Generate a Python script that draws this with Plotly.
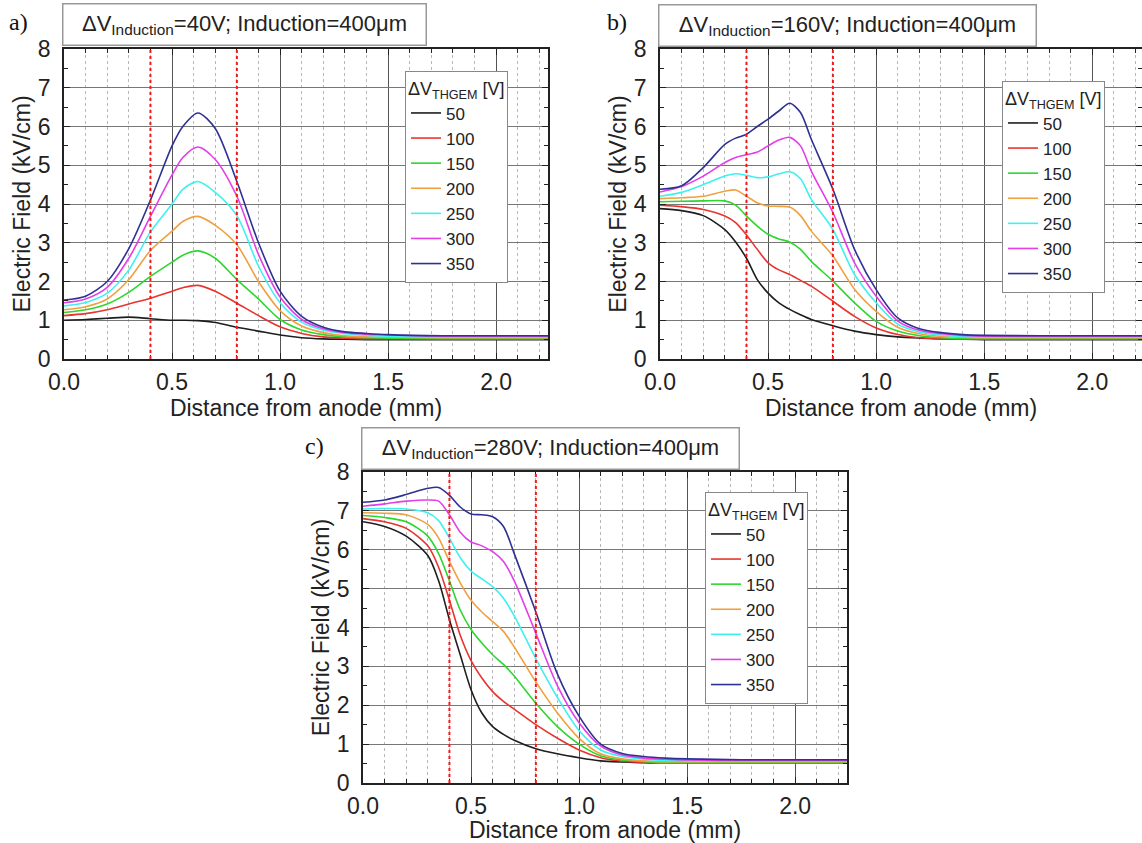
import plotly.graph_objects as go

W, H = 1142, 843
SANS = "Liberation Sans, Arial, sans-serif"
SERIF = "Liberation Serif, Times New Roman, serif"

# ---------------- data ----------------
series_names = ["50", "100", "150", "200", "250", "300", "350"]
series_colors = ["#1e1e1e", "#e8342f", "#2ed62e", "#f0a040", "#3ff0f0", "#e33ee8", "#2e3192"]

# panel a) dV_Induction = 40 V
x_a = [0, 0.1, 0.2, 0.3, 0.4, 0.5, 0.55, 0.62, 0.7, 0.8, 0.9, 1.0, 1.1, 1.2, 1.3, 1.4, 1.5, 1.75, 2.0, 2.25]
a_50 = [1.0, 1.02, 1.05, 1.08, 1.04, 1.0, 1.0, 0.99, 0.94, 0.82, 0.72, 0.62, 0.55, 0.52, 0.51, 0.5, 0.5, 0.5, 0.5, 0.5]
a_100 = [1.12, 1.17, 1.27, 1.42, 1.57, 1.75, 1.84, 1.9, 1.75, 1.44, 1.12, 0.83, 0.66, 0.57, 0.54, 0.52, 0.52, 0.51, 0.51, 0.51]
a_150 = [1.2, 1.27, 1.42, 1.72, 2.13, 2.5, 2.68, 2.79, 2.6, 2.05, 1.55, 1.02, 0.75, 0.63, 0.57, 0.55, 0.54, 0.53, 0.53, 0.53]
a_200 = [1.27, 1.35, 1.55, 2.05, 2.8, 3.3, 3.55, 3.68, 3.45, 2.95, 2.0, 1.25, 0.85, 0.68, 0.6, 0.57, 0.56, 0.55, 0.55, 0.55]
a_250 = [1.37, 1.46, 1.7, 2.3, 3.28, 4.0, 4.38, 4.58, 4.3, 3.7, 2.4, 1.45, 0.95, 0.74, 0.65, 0.61, 0.59, 0.57, 0.57, 0.57]
a_300 = [1.45, 1.55, 1.85, 2.6, 3.68, 4.75, 5.2, 5.47, 5.15, 4.2, 2.7, 1.6, 1.02, 0.78, 0.68, 0.64, 0.62, 0.59, 0.59, 0.59]
a_350 = [1.52, 1.62, 2.0, 2.85, 4.1, 5.5, 6.0, 6.35, 5.95, 4.58, 3.0, 1.75, 1.1, 0.82, 0.7, 0.66, 0.63, 0.6, 0.6, 0.6]

# panel b) dV_Induction = 160 V
x_b = [0, 0.1, 0.2, 0.3, 0.35, 0.4, 0.45, 0.5, 0.55, 0.6, 0.65, 0.7, 0.8, 0.9, 1.0, 1.1, 1.2, 1.3, 1.4, 1.5, 1.75, 2.0, 2.25]
b_50 = [3.88, 3.83, 3.7, 3.34, 3.02, 2.6, 2.05, 1.7, 1.45, 1.28, 1.14, 1.02, 0.86, 0.72, 0.63, 0.57, 0.54, 0.52, 0.51, 0.5, 0.5, 0.5, 0.5]
b_100 = [3.97, 3.93, 3.86, 3.69, 3.52, 3.2, 2.83, 2.48, 2.3, 2.18, 2.03, 1.88, 1.49, 1.1, 0.8, 0.63, 0.55, 0.52, 0.51, 0.51, 0.51, 0.51, 0.51]
b_150 = [4.06, 4.07, 4.08, 4.08, 3.97, 3.69, 3.43, 3.22, 3.1, 3.02, 2.83, 2.52, 2.01, 1.45, 0.97, 0.72, 0.6, 0.55, 0.53, 0.53, 0.53, 0.53, 0.53]
b_200 = [4.14, 4.16, 4.2, 4.33, 4.36, 4.2, 4.03, 3.95, 3.94, 3.92, 3.7, 3.3, 2.66, 1.8, 1.23, 0.82, 0.65, 0.58, 0.56, 0.55, 0.55, 0.55, 0.55]
b_250 = [4.2, 4.3, 4.5, 4.72, 4.78, 4.74, 4.68, 4.7, 4.78, 4.83, 4.65, 4.12, 3.34, 2.18, 1.45, 0.9, 0.7, 0.62, 0.58, 0.57, 0.57, 0.57, 0.57]
b_300 = [4.31, 4.45, 4.72, 5.07, 5.2, 5.27, 5.34, 5.5, 5.65, 5.72, 5.5, 4.85, 3.78, 2.48, 1.62, 0.98, 0.74, 0.65, 0.61, 0.59, 0.59, 0.59, 0.59]
b_350 = [4.38, 4.47, 4.94, 5.54, 5.7, 5.8, 6.0, 6.19, 6.4, 6.6, 6.36, 5.67, 4.38, 2.83, 1.79, 1.06, 0.78, 0.68, 0.63, 0.61, 0.6, 0.6, 0.6]

# panel c) dV_Induction = 280 V
x_c = [0, 0.1, 0.2, 0.3, 0.35, 0.4, 0.45, 0.5, 0.55, 0.6, 0.65, 0.7, 0.8, 0.9, 1.0, 1.1, 1.2, 1.3, 1.4, 1.5, 1.75, 2.0, 2.25]
c_50 = [6.72, 6.6, 6.35, 5.85, 5.2, 4.2, 3.3, 2.4, 1.8, 1.45, 1.25, 1.1, 0.88, 0.75, 0.65, 0.57, 0.54, 0.52, 0.52, 0.52, 0.52, 0.52, 0.52]
c_100 = [6.8, 6.72, 6.55, 6.1, 5.55, 4.7, 3.8, 3.15, 2.7, 2.35, 2.1, 1.9, 1.5, 1.15, 0.85, 0.65, 0.56, 0.53, 0.52, 0.52, 0.52, 0.52, 0.52]
c_150 = [6.88, 6.83, 6.72, 6.35, 5.9, 5.2, 4.45, 3.95, 3.6, 3.3, 3.05, 2.75, 2.05, 1.45, 1.0, 0.7, 0.59, 0.55, 0.53, 0.53, 0.53, 0.53, 0.53]
c_200 = [6.95, 6.94, 6.9, 6.65, 6.3, 5.7, 5.15, 4.7, 4.4, 4.15, 3.9, 3.5, 2.6, 1.8, 1.15, 0.75, 0.62, 0.57, 0.55, 0.55, 0.55, 0.55, 0.55]
c_250 = [7.05, 7.06, 7.05, 6.95, 6.75, 6.3, 5.8, 5.45, 5.25, 5.05, 4.75, 4.3, 3.2, 2.2, 1.35, 0.85, 0.68, 0.61, 0.58, 0.57, 0.56, 0.56, 0.56]
c_300 = [7.12, 7.18, 7.25, 7.28, 7.25, 6.9, 6.45, 6.2, 6.1, 5.95, 5.7, 5.2, 3.85, 2.5, 1.55, 0.95, 0.72, 0.64, 0.61, 0.59, 0.58, 0.58, 0.58]
c_350 = [7.22, 7.28, 7.42, 7.58, 7.6, 7.4, 7.1, 6.92, 6.9, 6.85, 6.6, 5.9, 4.4, 2.8, 1.72, 1.0, 0.76, 0.68, 0.64, 0.62, 0.6, 0.6, 0.6]

guide_x = [0.4, 0.8]  # red dashed markers (mm)
panel_labels = ["a)", "b)", "c)"]
panel_titles = [
    "ΔV<sub>Induction</sub>=40V; Induction=400μm",
    "ΔV<sub>Induction</sub>=160V; Induction=400μm",
    "ΔV<sub>Induction</sub>=280V; Induction=400μm",
]
x_title = "Distance from anode (mm)"
y_title = "Electric Field (kV/cm)"
legend_title = "ΔV<sub>THGEM</sub> [V]"

# ---------------- layout geometry (pixels) ----------------
panels = [
    dict(x=x_a, ys=[a_50, a_100, a_150, a_200, a_250, a_300, a_350],
         px=(64, 548), py=(49, 359), xmax=2.24, leg=(405, 71),
         box=(244, 24, 362), lab=(18, 22)),
    dict(x=x_b, ys=[b_50, b_100, b_150, b_200, b_250, b_300, b_350],
         px=(660, 1142), py=(49, 359), xmax=2.23, leg=(1002, 81),
         box=(847, 25, 376), lab=(617, 22)),
    dict(x=x_c, ys=[c_50, c_100, c_150, c_200, c_250, c_300, c_350],
         px=(363, 847), py=(472, 783), xmax=2.24, leg=(705, 492),
         box=(550, 449, 376), lab=(314, 446)),
]

fig = go.Figure()
layout = dict(
    width=W, height=H, margin=dict(l=0, r=0, t=0, b=0, autoexpand=False),
    paper_bgcolor="white", plot_bgcolor="white",
    font=dict(family=SANS, color="#222"),
    annotations=[], shapes=[],
)

for i, p in enumerate(panels):
    n = "" if i == 0 else str(i + 1)
    xa, ya = "x" + n, "y" + n
    leg = "legend" + n
    for name, color, yv in zip(series_names, series_colors, p["ys"]):
        fig.add_trace(go.Scatter(
            x=p["x"], y=yv, mode="lines", name=name, legend=leg,
            line=dict(color=color, width=1.6, shape="spline", smoothing=0.8),
            xaxis=xa, yaxis=ya,
        ))
    tickfont = dict(family=SANS, size=23, color="#222")
    layout["xaxis" + n] = dict(
        domain=[p["px"][0] / W, p["px"][1] / W], anchor=ya, automargin=False,
        range=[0, p["xmax"]], tick0=0, dtick=0.5, tickformat=".1f",
        ticks="inside", ticklen=6, tickcolor="#222", ticklabelstandoff=2,
        showline=True, linecolor="#222", linewidth=1.5, mirror="ticks",
        showgrid=True, gridcolor="#555", gridwidth=1, zeroline=False,
        minor=dict(dtick=0.1, ticks="inside", ticklen=4, tickcolor="#222",
                   showgrid=True, gridcolor="#b8b8b8", griddash="dot", gridwidth=1),
        tickfont=tickfont,
        title=dict(text=x_title, font=dict(family=SANS, size=23, color="#222"), standoff=0),
    )
    layout["yaxis" + n] = dict(
        domain=[1 - p["py"][1] / H, 1 - p["py"][0] / H], anchor=xa, automargin=False,
        range=[0, 8], tick0=0, dtick=1,
        ticks="inside", ticklen=6, tickcolor="#222", ticklabelstandoff=7,
        showline=True, linecolor="#222", linewidth=1.5, mirror="ticks",
        showgrid=True, gridcolor="#777", gridwidth=1, zeroline=False,
        minor=dict(dtick=0.5, ticks="inside", ticklen=4, tickcolor="#222", showgrid=False),
        tickfont=tickfont,
        title=dict(text=y_title, font=dict(family=SANS, size=23, color="#222"), standoff=1),
    )
    layout[leg] = dict(
        x=p["leg"][0] / W, y=1 - p["leg"][1] / H, xanchor="left", yanchor="top",
        bgcolor="white", bordercolor="#888", borderwidth=1,
        font=dict(family=SANS, size=17, color="#222"),
        title=dict(text=legend_title, font=dict(family=SANS, size=18, color="#222")),
        tracegroupgap=0,
    )
    for gx in guide_x:
        layout["shapes"].append(dict(
            type="line", xref=xa, yref=ya + " domain", x0=gx, x1=gx, y0=0, y1=1,
            line=dict(color="#ee1c1c", width=2, dash="dot"), layer="above",
        ))
    bx, by, bw = p["box"]
    layout["annotations"].append(dict(
        xref="paper", yref="paper", x=bx / W, y=1 - by / H,
        xanchor="center", yanchor="middle", text=panel_titles[i], showarrow=False,
        font=dict(family=SANS, size=22, color="#222"),
        bgcolor="white", bordercolor="#999", borderwidth=1.5, borderpad=0,
        width=bw, height=40,
    ))
    lx, ly = p["lab"]
    layout["annotations"].append(dict(
        xref="paper", yref="paper", x=lx / W, y=1 - ly / H,
        xanchor="center", yanchor="middle", text=panel_labels[i], showarrow=False,
        font=dict(family=SERIF, size=24, color="#111"),
    ))

fig.update_layout(**layout)
fig.write_html(
    "out.html",
    config={"displayModeBar": False},
    post_script="document.body.style.margin='0';document.body.style.overflow='hidden';",
)
